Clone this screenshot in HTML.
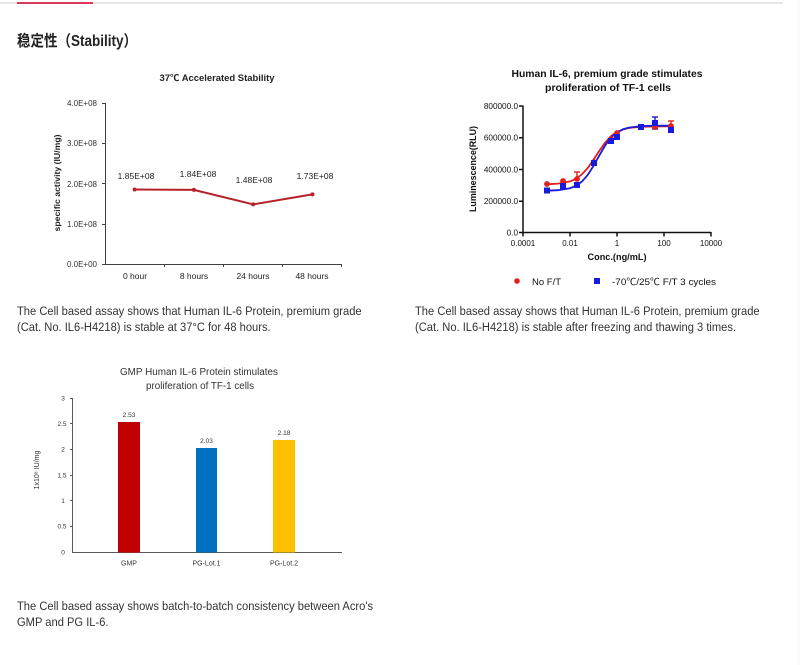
<!DOCTYPE html>
<html><head><meta charset="utf-8">
<style>
html,body{margin:0;padding:0;background:#fff;}
body{width:800px;height:665px;overflow:hidden;position:relative;}
svg{position:absolute;left:0;top:0;}
text{font-family:"Liberation Sans","Noto Sans CJK SC",sans-serif;}
</style></head>
<body>
<svg width="800" height="665" viewBox="0 0 800 665" xmlns="http://www.w3.org/2000/svg">
<!-- top rule -->
<rect x="0" y="2" width="783" height="2" fill="#e6e6e6"/>
<rect x="17" y="2" width="76" height="2" fill="#d93a5a"/>
<rect x="797" y="0" width="3" height="665" fill="#fafafa"/>

<!-- heading -->
<text x="17" y="46" font-size="15.5" font-weight="bold" fill="#222" font-family="Liberation Sans, Noto Sans CJK SC, sans-serif" textLength="120" lengthAdjust="spacingAndGlyphs">稳定性（Stability）</text>

<!-- ===== Chart 1 ===== -->
<text x="217" y="81" font-size="9" font-weight="bold" fill="#222" text-anchor="middle" textLength="115" lengthAdjust="spacingAndGlyphs">37℃ Accelerated  Stability</text>
<g stroke="#404040" stroke-width="1" fill="none">
<line x1="105.5" y1="103" x2="105.5" y2="264.5"/>
<line x1="105" y1="264.5" x2="342" y2="264.5"/>
<line x1="102" y1="103.5" x2="105" y2="103.5"/>
<line x1="102" y1="143.5" x2="105" y2="143.5"/>
<line x1="102" y1="183.5" x2="105" y2="183.5"/>
<line x1="102" y1="224.5" x2="105" y2="224.5"/>
<line x1="102" y1="264.5" x2="105" y2="264.5"/>
<line x1="164.5" y1="264" x2="164.5" y2="267"/>
<line x1="223.5" y1="264" x2="223.5" y2="267"/>
<line x1="282.5" y1="264" x2="282.5" y2="267"/>
<line x1="341.5" y1="264" x2="341.5" y2="267"/>
</g>
<g font-size="8" fill="#333" text-anchor="end">
<text x="97" y="106">4.0E+08</text>
<text x="97" y="146">3.0E+08</text>
<text x="97" y="187">2.0E+08</text>
<text x="97" y="227">1.0E+08</text>
<text x="97" y="267">0.0E+00</text>
</g>
<text transform="translate(60,183) rotate(-90)" font-size="8" font-weight="bold" fill="#222" text-anchor="middle" textLength="97" lengthAdjust="spacingAndGlyphs">specific activity (IU/mg)</text>
<polyline points="134.6,189.5 193.9,189.9 253.1,204.4 312.4,194.4" fill="none" stroke="#b5222a" stroke-width="2"/>
<g fill="#b5222a">
<circle cx="134.6" cy="189.5" r="2"/><circle cx="193.9" cy="189.9" r="2"/><circle cx="253.1" cy="204.4" r="2"/><circle cx="312.4" cy="194.4" r="2"/>
</g>
<g font-size="8.5" fill="#222" text-anchor="middle">
<text x="136" y="179">1.85E+08</text>
<text x="198" y="177">1.84E+08</text>
<text x="254" y="183">1.48E+08</text>
<text x="315" y="179">1.73E+08</text>
</g>
<g font-size="8.5" fill="#222" text-anchor="middle">
<text x="135" y="279">0 hour</text>
<text x="194" y="279">8 hours</text>
<text x="253" y="279">24 hours</text>
<text x="312" y="279">48 hours</text>
</g>

<!-- ===== Chart 2 ===== -->
<g font-size="10.5" font-weight="bold" fill="#111" text-anchor="middle">
<text x="607" y="77" textLength="191" lengthAdjust="spacingAndGlyphs">Human IL-6, premium grade stimulates</text>
<text x="608" y="91" textLength="126" lengthAdjust="spacingAndGlyphs">proliferation of TF-1 cells</text>
</g>
<g stroke="#111" stroke-width="1.5" fill="none">
<line x1="523" y1="105.5" x2="523" y2="233.5"/>
<line x1="523" y1="232.5" x2="711" y2="232.5"/>
<line x1="519" y1="106" x2="523" y2="106"/>
<line x1="519" y1="137.75" x2="523" y2="137.75"/>
<line x1="519" y1="169.5" x2="523" y2="169.5"/>
<line x1="519" y1="201.25" x2="523" y2="201.25"/>
<line x1="519" y1="232.5" x2="523" y2="232.5"/>
<line x1="523" y1="232" x2="523" y2="236.5"/>
<line x1="570" y1="232" x2="570" y2="236.5"/>
<line x1="617" y1="232" x2="617" y2="236.5"/>
<line x1="664" y1="232" x2="664" y2="236.5"/>
<line x1="711" y1="232" x2="711" y2="236.5"/>
</g>
<g font-size="8.2" fill="#111" text-anchor="end">
<text x="518" y="109">800000.0</text>
<text x="518" y="140.5">600000.0</text>
<text x="518" y="172.5">400000.0</text>
<text x="518" y="204">200000.0</text>
<text x="518" y="235.5">0.0</text>
</g>
<g font-size="8" fill="#111" text-anchor="middle">
<text x="523" y="246">0.0001</text>
<text x="570" y="246">0.01</text>
<text x="617" y="246">1</text>
<text x="664" y="246">100</text>
<text x="711" y="246">10000</text>
</g>
<text x="617" y="260" font-size="9" font-weight="bold" fill="#111" text-anchor="middle" textLength="59" lengthAdjust="spacingAndGlyphs">Conc.(ng/mL)</text>
<text transform="translate(476,169) rotate(-90)" font-size="9.5" font-weight="bold" fill="#111" text-anchor="middle" textLength="86" lengthAdjust="spacingAndGlyphs">Luminescence(RLU)</text>
<!-- curves -->
<polyline fill="none" stroke="#e01f1f" stroke-width="1.8" points="546.5,184.3 558.25,183.6 570,181.4 575.9,178.8 581.75,174.5 587.6,168.2 593.5,159.8 599.4,150.7 605.25,142.4 611.1,136.1 617,132.0 622.9,129.5 628.75,128.0 640.5,126.8 652.25,126.5 664,126.4 672.2,126.4"/>
<polyline fill="none" stroke="#1a1adc" stroke-width="1.8" points="546.5,190.7 558.25,190.2 570,188.2 575.9,185.8 581.75,181.7 587.6,175.1 593.5,165.9 599.4,155.3 605.25,145.3 611.1,137.5 617,132.4 622.9,129.3 628.75,127.6 640.5,126.2 652.25,125.8 664,125.7 672.2,125.7"/>
<!-- error bars -->
<g stroke="#e01f1f" stroke-width="1.4">
<line x1="577" y1="172" x2="577" y2="179"/><line x1="574" y1="172" x2="580" y2="172"/>
<line x1="671" y1="121" x2="671" y2="126"/><line x1="668" y1="121" x2="674" y2="121"/>
</g>
<g stroke="#1a1adc" stroke-width="1.4">
<line x1="655" y1="117" x2="655" y2="129"/><line x1="652" y1="117" x2="658" y2="117"/><line x1="652" y1="129" x2="658" y2="129"/>
</g>
<g fill="#e01f1f">
<circle cx="547" cy="184" r="2.9"/><circle cx="563" cy="181" r="2.9"/><circle cx="577" cy="179" r="2.9"/><circle cx="594" cy="162" r="2.9"/><circle cx="611" cy="139" r="2.9"/><circle cx="617" cy="133" r="2.9"/><circle cx="641" cy="127" r="2.9"/><circle cx="655" cy="127" r="2.9"/><circle cx="671" cy="126" r="2.9"/>
</g>
<g fill="#1a1adc">
<rect x="544" y="187.5" width="6" height="6"/><rect x="560" y="183" width="6" height="6"/><rect x="574" y="182" width="6" height="6"/><rect x="591" y="160" width="6" height="6"/><rect x="608" y="138" width="6" height="6"/><rect x="614" y="134" width="6" height="6"/><rect x="638" y="124" width="6" height="6"/><rect x="652" y="120" width="6" height="6"/><rect x="668" y="127" width="6" height="6"/>
</g>
<!-- legend -->
<circle cx="517" cy="281" r="2.8" fill="#e01f1f"/>
<text x="532" y="285" font-size="9.5" fill="#111">No F/T</text>
<rect x="594" y="278" width="6" height="6" fill="#1a1adc"/>
<text x="612" y="285" font-size="9.5" fill="#111" textLength="104" lengthAdjust="spacingAndGlyphs">-70℃/25℃  F/T 3 cycles</text>

<!-- paragraphs row 1 -->
<g font-size="12" fill="#333">
<text transform="translate(17,315) scale(0.93,1)">The Cell based assay shows that Human IL-6 Protein, premium grade</text>
<text transform="translate(17,331) scale(0.93,1)">(Cat. No. IL6-H4218) is stable at 37°C for 48 hours.</text>
<text transform="translate(415,315) scale(0.93,1)">The Cell based assay shows that Human IL-6 Protein, premium grade</text>
<text transform="translate(415,331) scale(0.93,1)">(Cat. No. IL6-H4218) is stable after freezing and thawing 3 times.</text>
</g>

<!-- ===== Chart 3 ===== -->
<g font-size="10" fill="#333" text-anchor="middle">
<text x="199" y="375" textLength="158" lengthAdjust="spacingAndGlyphs">GMP Human IL-6 Protein stimulates</text>
<text x="200" y="389" textLength="108" lengthAdjust="spacingAndGlyphs">proliferation of TF-1 cells</text>
</g>
<g stroke="#595959" stroke-width="1" fill="none">
<line x1="72.5" y1="398" x2="72.5" y2="552.5"/>
<line x1="72" y1="552.5" x2="342" y2="552.5"/>
<line x1="70" y1="398.5" x2="72" y2="398.5"/>
<line x1="70" y1="423.5" x2="72" y2="423.5"/>
<line x1="70" y1="449.5" x2="72" y2="449.5"/>
<line x1="70" y1="475.5" x2="72" y2="475.5"/>
<line x1="70" y1="500.5" x2="72" y2="500.5"/>
<line x1="70" y1="526.5" x2="72" y2="526.5"/>
</g>
<g font-size="6.5" fill="#333" text-anchor="middle">
<text x="63" y="400.5">3</text>
<text x="62" y="426">2.5</text>
<text x="63" y="451.5">2</text>
<text x="62" y="477.5">1.5</text>
<text x="63" y="503">1</text>
<text x="62" y="528.5">0.5</text>
<text x="63" y="554.5">0</text>
</g>
<text transform="translate(39,470) rotate(-90)" font-size="7" fill="#333" text-anchor="middle">1x10⁸ IU/mg</text>
<rect x="118" y="422" width="22" height="130.5" fill="#c00000"/>
<rect x="196" y="448" width="21" height="104.5" fill="#0070c0"/>
<rect x="273" y="440" width="22" height="112.5" fill="#ffc000"/>
<g font-size="6.5" fill="#333" text-anchor="middle">
<text x="129" y="417">2.53</text>
<text x="206.5" y="443">2.03</text>
<text x="284" y="435">2.18</text>
</g>
<g font-size="7" fill="#333" text-anchor="middle">
<text x="129" y="565.5">GMP</text>
<text x="206.5" y="565.5">PG-Lot.1</text>
<text x="284" y="565.5">PG-Lot.2</text>
</g>

<!-- bottom paragraph -->
<g font-size="12" fill="#333">
<text transform="translate(17,610) scale(0.93,1)">The Cell based assay shows batch-to-batch consistency between Acro's</text>
<text transform="translate(17,626) scale(0.93,1)">GMP and PG IL-6.</text>
</g>
</svg>
</body></html>
